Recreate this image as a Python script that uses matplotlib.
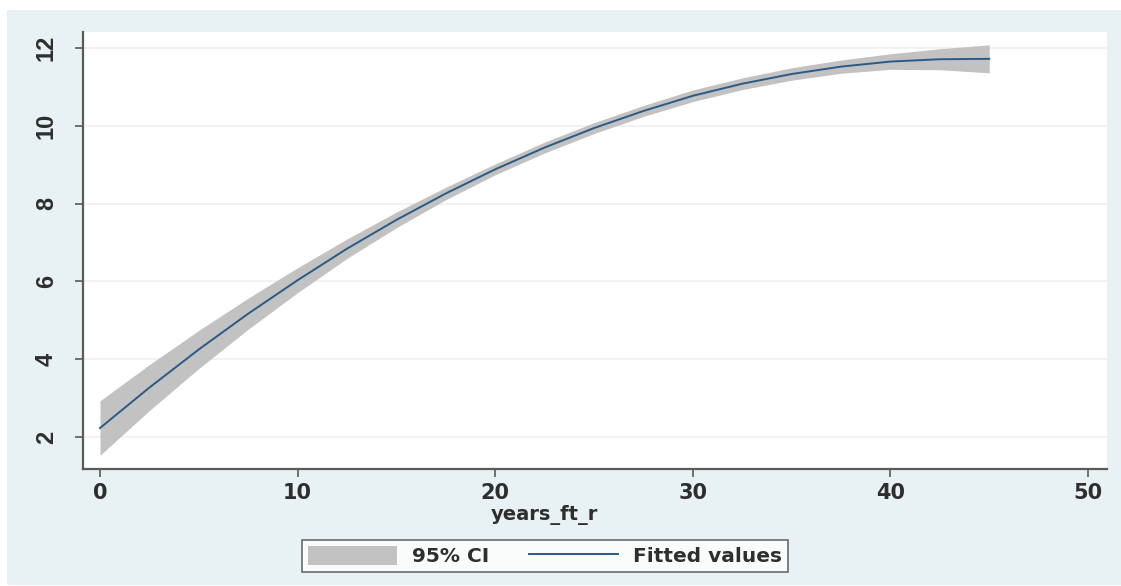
import matplotlib
matplotlib.use("Agg")
import matplotlib.pyplot as plt
from matplotlib.patches import Rectangle, Patch
from matplotlib.lines import Line2D

plt.rcParams["font.family"] = ["DejaVu Sans"]

# Fitted values and 95% confidence band over years_ft_r
years = [0, 2.5, 5, 7.5, 10, 12.5, 15, 17.5, 20, 22.5, 25, 27.5, 30,
         32.5, 35, 37.5, 40, 42.5, 45]
fitted = [2.23, 3.27, 4.25, 5.17, 6.03, 6.84, 7.58, 8.26, 8.88, 9.44, 9.94,
          10.38, 10.77, 11.08, 11.33, 11.52, 11.65, 11.71, 11.72]
ci_lower = [1.53, 2.68, 3.76, 4.77, 5.71, 6.59, 7.38, 8.10, 8.74, 9.30, 9.80,
            10.24, 10.62, 10.93, 11.17, 11.35, 11.45, 11.44, 11.36]
ci_upper = [2.93, 3.86, 4.74, 5.57, 6.35, 7.09, 7.78, 8.42, 9.02, 9.58, 10.08,
            10.52, 10.92, 11.23, 11.49, 11.69, 11.85, 11.98, 12.08]

x_ticks = [0, 10, 20, 30, 40, 50]
y_ticks = [2, 4, 6, 8, 10, 12]
x_label = "years_ft_r"
legend_labels = ["95% CI", "Fitted values"]

W, H = 1121, 586
BG = "#e8f1f3"
CI_COLOR = "#c2c2c2"
LINE_COLOR = "#2b5a84"
AXIS_COLOR = "#5a5a5a"
TEXT_COLOR = "#2e2e2e"

fig = plt.figure(figsize=(W / 100, H / 100), dpi=100)
fig.patch.set_facecolor("white")
fig.patches.append(Rectangle((7 / W, 1 / H), 1 - 7 / W, (585 - 10) / H,
                             transform=fig.transFigure, facecolor=BG,
                             edgecolor="none", zorder=-10))

ax = fig.add_axes([83 / W, (H - 469) / H, (1107 - 83) / W, (469 - 32) / H])
ax.set_facecolor("white")

ax.fill_between(years, ci_lower, ci_upper, color=CI_COLOR, linewidth=0,
                zorder=2)
ax.plot(years, fitted, color=LINE_COLOR, linewidth=1.4, zorder=3)

ax.set_xlim(-0.86, 50.96)
ax.set_ylim(1.177, 12.41)
ax.set_xticks(x_ticks)
ax.set_yticks(y_ticks)
ax.grid(axis="y", color="#f0f0ec", linewidth=1.2, zorder=0)
ax.set_axisbelow(True)

for side in ("top", "right"):
    ax.spines[side].set_visible(False)
for side in ("left", "bottom"):
    ax.spines[side].set_color(AXIS_COLOR)
    ax.spines[side].set_linewidth(1.6)

ax.tick_params(axis="both", direction="out", length=6, width=1.2,
               color=AXIS_COLOR, labelcolor=TEXT_COLOR)
ax.tick_params(axis="x", pad=4, labelsize=15)
ax.tick_params(axis="y", pad=12, labelsize=17)
for lbl in ax.get_xticklabels():
    lbl.set_fontweight("bold")
for lbl in ax.get_yticklabels():
    lbl.set_family(["Liberation Sans Narrow", "Liberation Sans"])
    lbl.set_fontweight("bold")
    lbl.set_rotation(90)
    lbl.set_va("center")
    lbl.set_ha("right")

fig.text(544 / W, 1 - 515 / H, x_label, ha="center", va="center",
         fontsize=14, fontweight="bold", color=TEXT_COLOR)

handles = [Patch(facecolor=CI_COLOR, edgecolor="none"),
           Line2D([0], [0], color=LINE_COLOR, linewidth=1.4)]
leg = fig.legend(handles, legend_labels, loc="center",
                 bbox_to_anchor=(545 / W, 1 - 556 / H), ncol=2,
                 prop={"size": 14.5, "weight": "bold"}, frameon=True,
                 fancybox=False, handlelength=4.4, handleheight=1.05,
                 handletextpad=0.75, columnspacing=2.0, borderpad=0.3,
                 borderaxespad=0)
frame = leg.get_frame()
frame.set_edgecolor("#555555")
frame.set_linewidth(1.3)
frame.set_facecolor("white")
for t in leg.get_texts():
    t.set_color(TEXT_COLOR)

fig.savefig("out.png", dpi=100, facecolor=fig.get_facecolor())
